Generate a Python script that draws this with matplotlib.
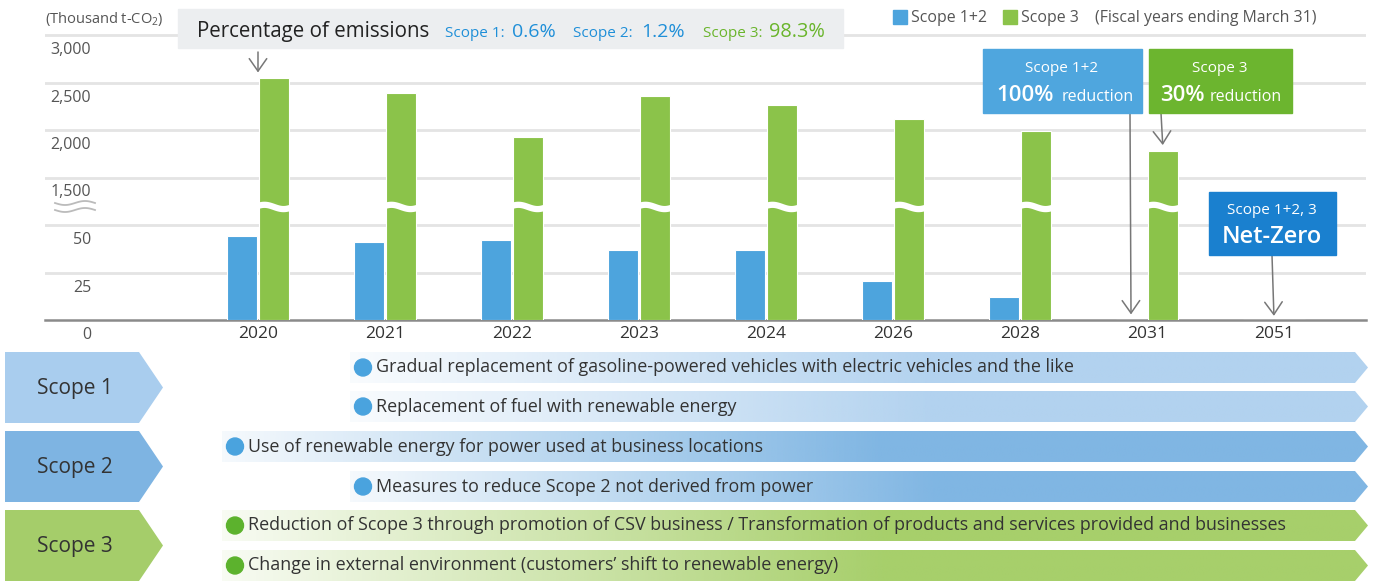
import numpy as np
import matplotlib
matplotlib.use("Agg")
import matplotlib.pyplot as plt
from matplotlib.patches import Polygon, Rectangle, Circle
from matplotlib.colors import to_rgb
from matplotlib.transforms import blended_transform_factory, offset_copy

plt.rcParams["font.family"] = ["Open Sans", "DejaVu Sans"]
plt.rcParams["mathtext.fontset"] = "custom"
plt.rcParams["mathtext.rm"] = "Open Sans"

# ---- data (thousand t-CO2) ----
years = ["2020", "2021", "2022", "2023", "2024", "2026", "2028", "2031", "2051"]
scope12 = [44, 41, 42, 37, 37, 20.5, 12, 0, 0]
scope3 = [2547, 2390, 1926, 2358, 2263, 2116, 1990, 1783, 0]
tick_vals = [0, 25, 50, 1500, 2000, 2500, 3000]
tick_labels = ["0", "25", "50", "1,500", "2,000", "2,500", "3,000"]

measures = [
    ("Gradual replacement of gasoline-powered vehicles with electric vehicles and the like", 1),
    ("Replacement of fuel with renewable energy", 1),
    ("Use of renewable energy for power used at business locations", 2),
    ("Measures to reduce Scope 2 not derived from power", 2),
    ("Reduction of Scope 3 through promotion of CSV business / Transformation of products and services provided and businesses", 3),
    ("Change in external environment (customers\u2019 shift to renewable energy)", 3),
]
measure_start = [350, 350, 222, 350, 222, 222]

BLUE = "#4da4dd"
GREEN = "#8bc34a"
GREY_TXT = "#555555"


def u(v):
    """broken axis: 0-50 on the lower part, 1500-3000 on the upper part"""
    return v / 25 if v <= 50 else 3 + (v - 1500) / 500


W, H = 1374, 582
fig = plt.figure(figsize=(W / 100, H / 100), dpi=100)
ax = fig.add_axes([45 / W, 1 - 320 / H, (1366 - 45) / W, (320 - 10) / H], zorder=1)
ax.set_xlim(-1.677, 8.724)
ax.set_ylim(0, 310 / 47.5)
ax.patch.set_alpha(0)

ov = fig.add_axes([0, 0, 1, 1], zorder=2)
ov.patch.set_alpha(0)

x = np.arange(len(years))
bw = 0.236
off = 0.126
h12 = [u(v) for v in scope12]
h3 = [u(v) for v in scope3]
ax.bar(x - off, h12, bw, color=BLUE, edgecolor="white", linewidth=0.8, zorder=3)
ax.bar(x + off, h3, bw, color=GREEN, edgecolor="white", linewidth=0.8, zorder=3)

# wave break on the tall bars
for i, v in enumerate(scope3):
    if v > 50:
        xs = np.linspace(-0.15, 0.15, 60)
        ys = u(50) + 0.38 + 0.045 * np.sin(2 * np.pi * xs / 0.3 + np.pi)
        ax.plot(i + off + xs, ys, color="white", lw=4.5, zorder=4, solid_capstyle="butt")

# grid + baseline
for tv in tick_vals[1:]:
    ax.axhline(u(tv), color="#e4e4e4", lw=2, zorder=0)
for s in ["top", "right", "left"]:
    ax.spines[s].set_visible(False)
ax.spines["bottom"].set_color("#8a8a8a")
ax.spines["bottom"].set_linewidth(1.8)
ax.set_yticks([])
ax.set_xticks(x, years, fontsize=12.5, color="#333333")
ax.tick_params(axis="x", length=0, pad=4)

# y labels sit under their grid lines
tr = offset_copy(blended_transform_factory(ax.transAxes, ax.transData), fig=fig, y=-15, units="dots")
for tv, tl in zip(tick_vals, tick_labels):
    ax.text((91 - 45) / 1321, u(tv), tl, transform=tr, ha="right", va="center",
            fontsize=11.5, color=GREY_TXT)

# ---- overlay in pixel coordinates ----
ov.set_xlim(0, W)
ov.set_ylim(H, 0)
ov.axis("off")

ov.text(45, 19, r"(Thousand t-CO$_\mathrm{2}$)", fontsize=10.5, color=GREY_TXT, va="center")
# axis break mark
wx = np.linspace(55, 95, 60)
for yy in (203, 210):
    ov.plot(wx, yy + 2 * np.sin((wx - 55) / 40 * 2 * np.pi), color="#bbbbbb", lw=1.3)

# header box
ov.add_patch(Rectangle((178, 9), 665, 39, color="#eceef0", zorder=1))
hdr = [("Percentage of emissions", 197, 14.8, "#222222"),
       ("Scope 1:", 445, 11, "#1f8fd8"), ("0.6%", 512, 14, "#1f8fd8"),
       ("Scope 2:", 573, 11, "#1f8fd8"), ("1.2%", 641, 14, "#1f8fd8"),
       ("Scope 3:", 703, 11, "#6ab52c"), ("98.3%", 769, 14.3, "#6ab52c")]
for t, px, fs, c in hdr:
    ov.text(px, 37, t, fontsize=fs, color=c, va="baseline", zorder=2)

# legend
ov.add_patch(Rectangle((893, 10), 14, 14, color=BLUE))
ov.text(911, 17.5, "Scope 1+2", fontsize=11.4, color=GREY_TXT, va="center")
ov.add_patch(Rectangle((1003, 10), 14, 14, color=GREEN))
ov.text(1021, 17.5, "Scope 3", fontsize=11.4, color=GREY_TXT, va="center")
ov.text(1095, 17.5, "(Fiscal years ending March 31)", fontsize=11.4, color=GREY_TXT, va="center")

# target boxes
ov.add_patch(Rectangle((983, 49), 159, 64, color="#4fa6de"))
ov.text(1062, 68, "Scope 1+2", fontsize=11, color="white", ha="center", va="center")
ov.text(996, 101, "100%", fontsize=16, color="white", weight="semibold", va="baseline")
ov.text(1062, 101, "reduction", fontsize=11.5, color="white", va="baseline")

ov.add_patch(Rectangle((1149, 49), 143, 64, color="#6cb52f"))
ov.text(1220, 68, "Scope 3", fontsize=11, color="white", ha="center", va="center")
ov.text(1160, 101, "30%", fontsize=16, color="white", weight="semibold", va="baseline")
ov.text(1210, 101, "reduction", fontsize=11.5, color="white", va="baseline")

ov.add_patch(Rectangle((1209, 192), 127, 63, color="#1a80cf"))
ov.text(1272, 210, "Scope 1+2, 3", fontsize=11, color="white", ha="center", va="center")
ov.text(1272, 237, "Net-Zero", fontsize=17, color="white", weight="semibold", ha="center", va="center")

arrow = dict(arrowstyle="->,head_length=0.5,head_width=0.35", color="#777777", lw=1.1,
             mutation_scale=18, shrinkA=0)
ax.annotate("", xy=(0, u(scope3[0])), xytext=(258, 52), textcoords=ov.transData,
            arrowprops=dict(arrow, shrinkB=4), annotation_clip=False)
ax.annotate("", xy=(7 - off, 0), xytext=(1130, 113), textcoords=ov.transData,
            arrowprops=dict(arrow, shrinkB=4), annotation_clip=False)
ax.annotate("", xy=(7 + off, u(scope3[7])), xytext=(1161, 113), textcoords=ov.transData,
            arrowprops=dict(arrow, shrinkB=4), annotation_clip=False)
ax.annotate("", xy=(8, 0), xytext=(1272, 255), textcoords=ov.transData,
            arrowprops=dict(arrow, shrinkB=3), annotation_clip=False)

# ---- measures panel ----
chev_col = {1: "#a9cdee", 2: "#7eb4e2", 3: "#a5cd6a"}
band_col = {1: "#b2d2ef", 2: "#80b6e3", 3: "#a7cf6b"}
dot_col = {1: "#4aa3de", 2: "#4aa3de", 3: "#5cb22d"}
chev_rows = [(352, 423), (431, 502), (510, 581)]
for k, (y0, y1) in enumerate(chev_rows, start=1):
    ym = (y0 + y1) / 2
    ov.add_patch(Polygon([(5, y0), (139, y0), (163, ym), (139, y1), (5, y1)],
                         closed=True, color=chev_col[k], lw=0))
    ov.text(75, ym + 1, f"Scope {k}", fontsize=15, color="#333333", ha="center", va="center")

band_rows = [(352, 383), (391, 422), (431, 462), (471, 502), (510, 541), (550, 581)]
t = np.linspace(0, 1, 400)
for (label, sc), x0, (y0, y1) in zip(measures, measure_start, band_rows):
    ym = (y0 + y1) / 2
    poly = Polygon([(x0, y0), (1355, y0), (1368, ym), (1355, y1), (x0, y1)],
                   closed=True, facecolor="none", edgecolor="none")
    ov.add_patch(poly)
    img = np.zeros((1, t.size, 4))
    img[..., :3] = to_rgb(band_col[sc])
    img[..., 3] = np.clip(0.08 + 1.6 * t, 0, 1)
    im = ov.imshow(img, extent=(x0, 1368, y1, y0), aspect="auto", interpolation="bilinear", zorder=1)
    im.set_clip_path(poly)
    ov.add_patch(Circle((x0 + 13, ym), 8.5, color=dot_col[sc], zorder=2))
    ov.text(x0 + 26, ym, label, fontsize=12.9, color="#333333", va="center", zorder=3)

ov.set_xlim(0, W)
ov.set_ylim(H, 0)

fig.savefig("out.png", dpi=100)
